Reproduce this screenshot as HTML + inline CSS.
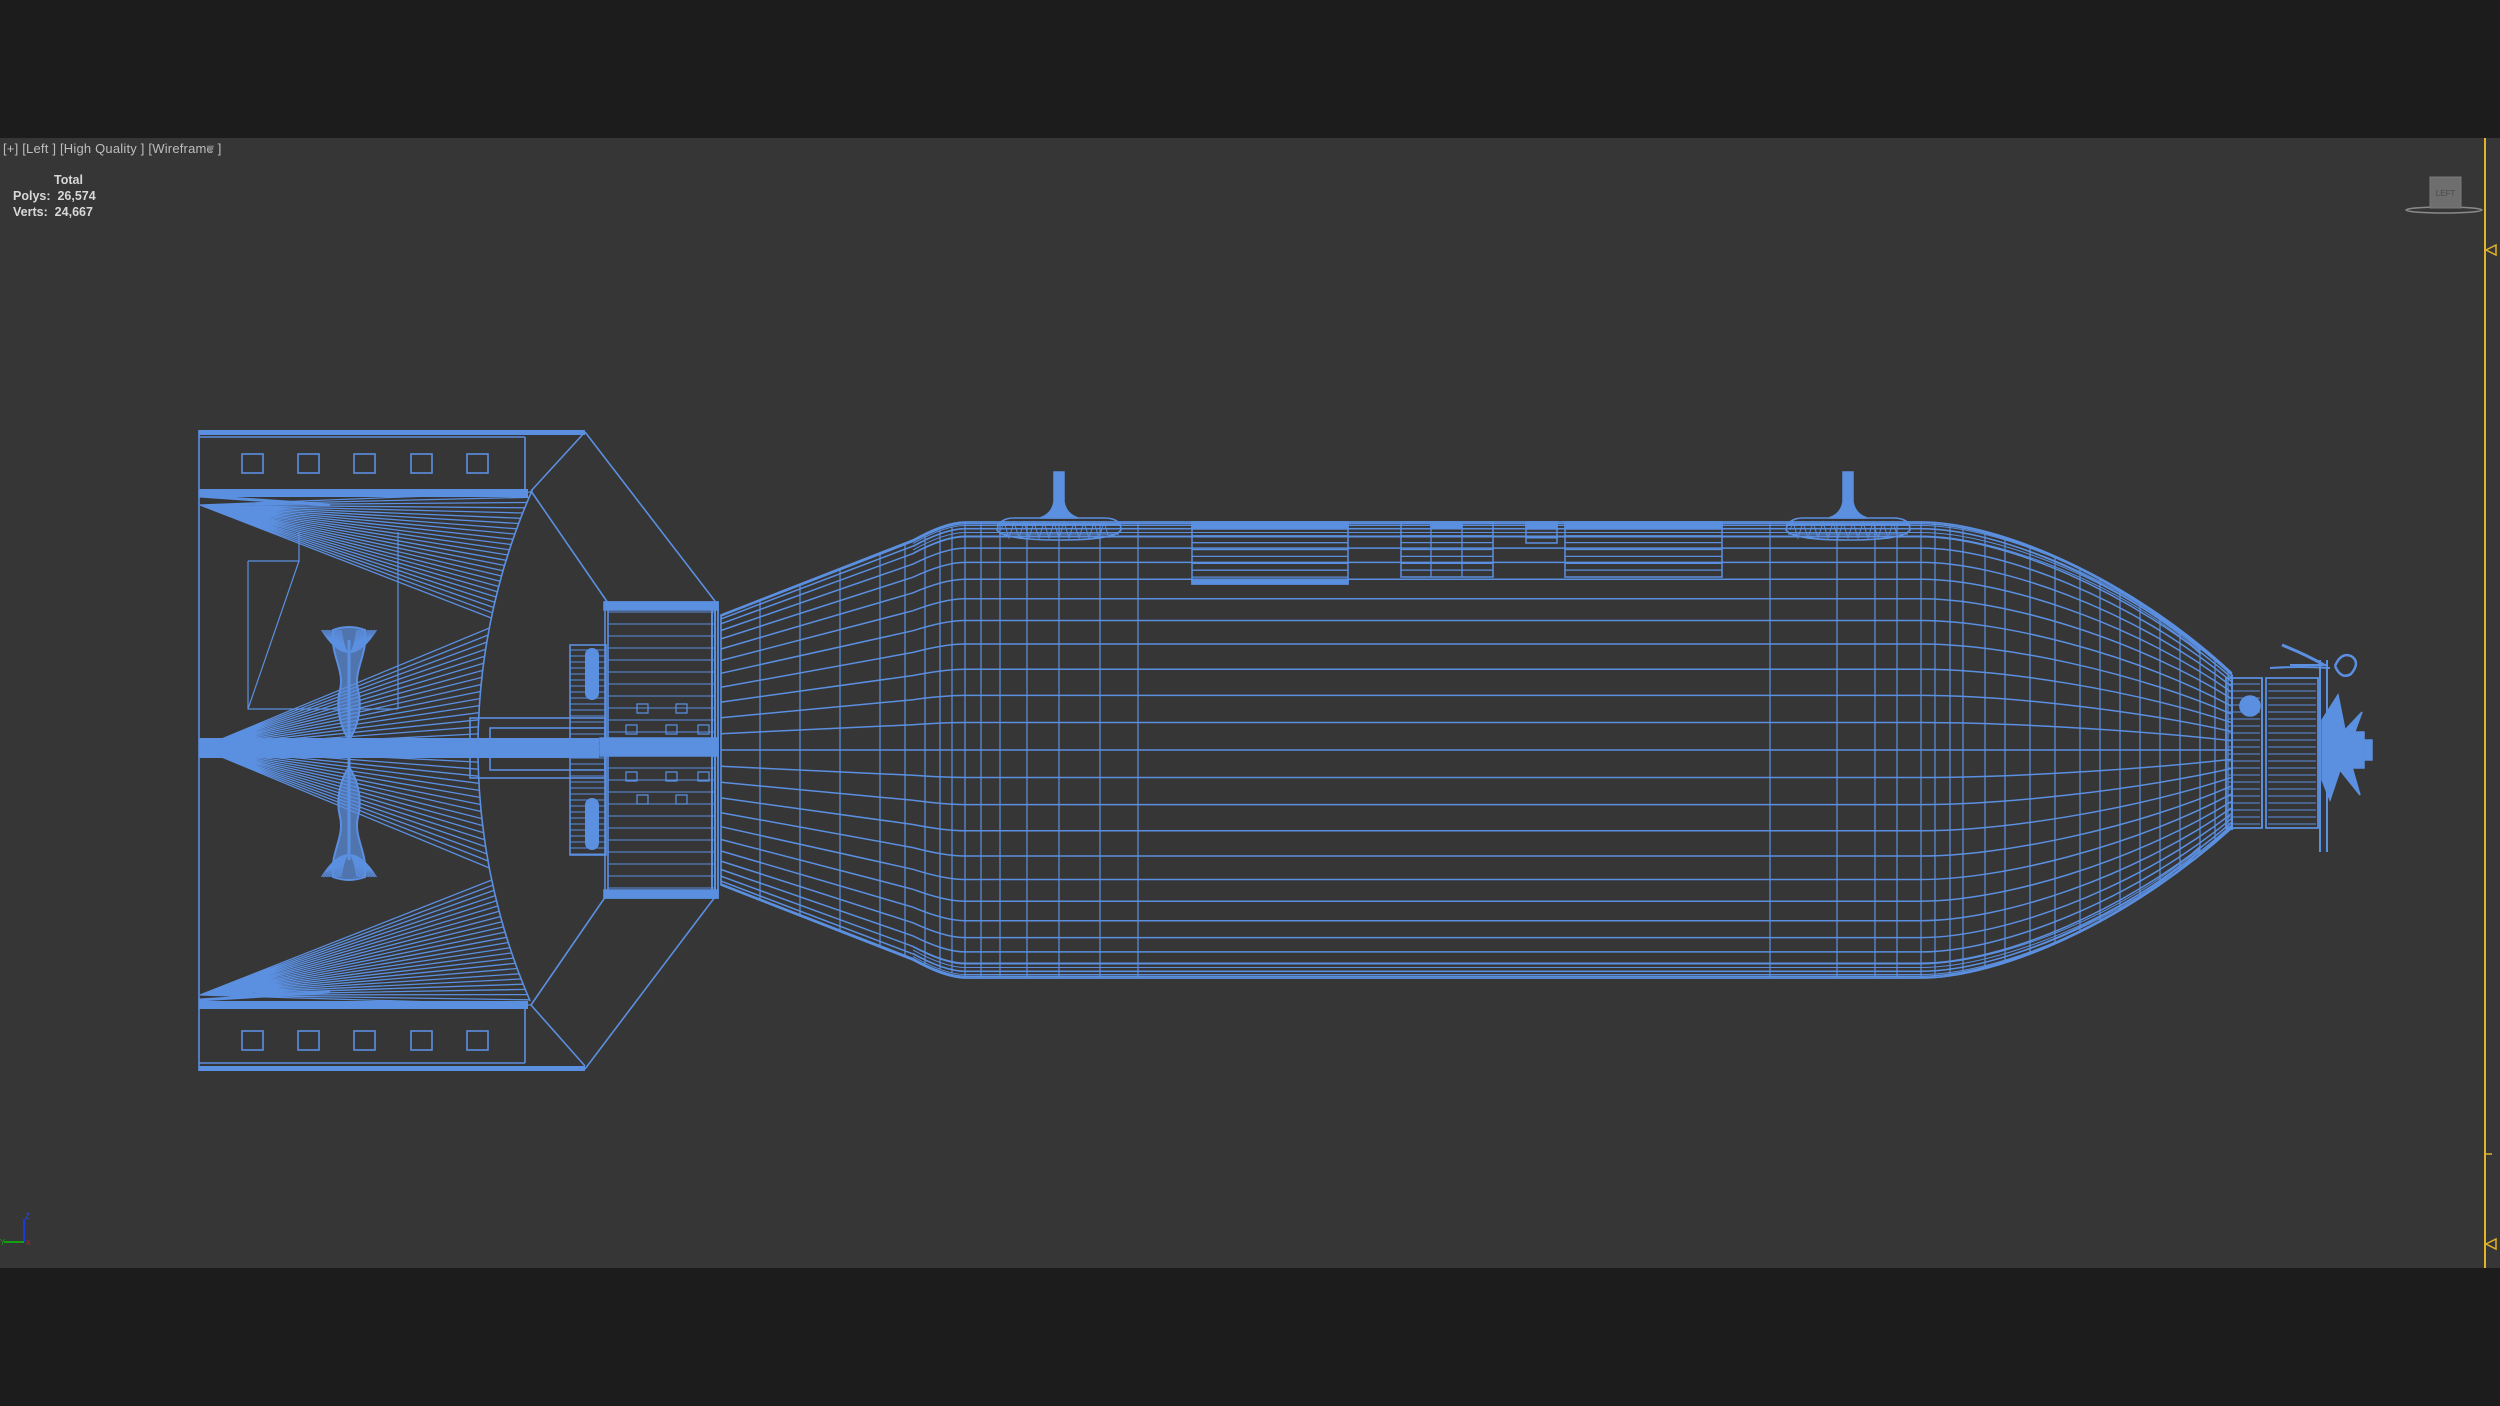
<!DOCTYPE html>
<html><head><meta charset="utf-8">
<style>
html,body{margin:0;padding:0;background:#1c1c1c;width:2500px;height:1406px;overflow:hidden;}
#vp{position:absolute;left:0;top:138px;width:2500px;height:1130px;background:#363636;}
svg{position:absolute;left:0;top:0;}
.t{position:absolute;font-family:"Liberation Sans",sans-serif;color:#c8c8c8;}
</style></head><body>
<div id="vp"></div>
<div class="t" style="left:3px;top:141px;font-size:13px;color:#bdbdbd;letter-spacing:0.2px">[+] [Left ] [High Quality ] [Wireframe ]</div>
<div class="t" style="left:204px;top:141px;font-size:13px;color:#777">&#9660;</div>
<div class="t" style="left:54px;top:173px;font-size:12.5px;font-weight:bold;color:#d8d8d8">Total</div>
<div class="t" style="left:13px;top:189px;font-size:12.5px;font-weight:bold;color:#d8d8d8">Polys:&nbsp; 26,574</div>
<div class="t" style="left:13px;top:205px;font-size:12.5px;font-weight:bold;color:#d8d8d8">Verts:&nbsp; 24,667</div>
<svg id="s" width="2500" height="1406" viewBox="0 0 2500 1406" fill="none" stroke="#5b8fe0" stroke-width="1.6">
<line x1="2485" y1="138" x2="2485" y2="1268" stroke="#e3b32a" stroke-width="2"/>
<path d="M2496 245 L2486 250 L2496 255 Z" stroke="#e3b32a" stroke-width="1.5"/>
<path d="M2496 1239 L2486 1244 L2496 1249 Z" stroke="#e3b32a" stroke-width="1.5"/>
<line x1="2485" y1="1154" x2="2492" y2="1154" stroke="#e3b32a" stroke-width="1.5"/>
<ellipse cx="2444" cy="210" rx="38" ry="3" stroke="#8a8a8a" stroke-width="1.5"/>
<rect x="2430" y="177" width="31" height="31" fill="#6e6e6e" stroke="#7a7a7a" stroke-width="1"/>
<text x="2445.5" y="196" font-family="Liberation Sans,sans-serif" font-size="8" fill="#4a4a4a" stroke="none" text-anchor="middle">LEFT</text>
<line x1="24" y1="1242" x2="24" y2="1219" stroke="#1a3adc" stroke-width="2"/>
<line x1="24" y1="1242" x2="4" y2="1242" stroke="#12a012" stroke-width="2"/>
<text x="25" y="1219" font-family="Liberation Sans,sans-serif" font-size="8" fill="#2a4ae0" stroke="none">Z</text>
<text x="26" y="1245" font-family="Liberation Sans,sans-serif" font-size="7" fill="#c02020" stroke="none">X</text>
<text x="0" y="1245" font-family="Liberation Sans,sans-serif" font-size="8" fill="#18a018" stroke="none">Y</text>
<path d="M721 615 L913 540 Q945 523 965 522 L1921 522 C2000 522 2130 580 2232 675 L2232 828 C2130 920 2000 978 1921 978 L965 978 Q945 977 913 960 L721 885 Z"/>
<rect x="199" y="430" width="386" height="5" fill="#5b8fe0" stroke="none"/>
<rect x="199" y="1066" width="386" height="5" fill="#5b8fe0" stroke="none"/>
<line x1="199" y1="430" x2="199" y2="1071"/>
<path d="M585 432 L718 605 L718 893 L585 1069"/>
<path d="M525 437 L525 491 M525 1005 L525 1063 M531 491 L585 432 M531 1005 L585 1066 M531 491 L608 603 M531 1005 L608 893"/>
<line x1="199" y1="437" x2="525" y2="437"/><line x1="199" y1="1063" x2="525" y2="1063"/>
<g stroke-width="1.6">
<rect x="242" y="454" width="21" height="19"/><rect x="298" y="454" width="21" height="19"/><rect x="354" y="454" width="21" height="19"/><rect x="411" y="454" width="21" height="19"/><rect x="467" y="454" width="21" height="19"/>
<rect x="242" y="1031" width="21" height="19"/><rect x="298" y="1031" width="21" height="19"/><rect x="354" y="1031" width="21" height="19"/><rect x="411" y="1031" width="21" height="19"/><rect x="467" y="1031" width="21" height="19"/>
</g>
<path d="M199 489 L528 489 L528 497 L199 497 Z" fill="#5b8fe0" stroke="none"/>
<path d="M199 1001 L528 1001 L528 1009 L199 1009 Z" fill="#5b8fe0" stroke="none"/>
<path d="M248 561 L248 709 L398 709 M248 561 L299 561 L248 709 M299 561 L299 532 M398 532 L398 709" stroke-width="1.2"/>
<rect x="605" y="602" width="113" height="296"/>
<rect x="608" y="605" width="107" height="290"/>
<rect x="570" y="645" width="36" height="210"/>
<rect x="199" y="738" width="400" height="20" fill="#5b8fe0" stroke="none"/>
<rect x="470" y="718" width="135" height="60"/>
<rect x="490" y="728" width="115" height="42"/>
<g id="dyn"></g>
</svg>
<script>
(function(){
var g=document.getElementById('dyn');var NS='http://www.w3.org/2000/svg';
function P(d,sw,fill){var p=document.createElementNS(NS,'path');p.setAttribute('d',d);if(sw)p.setAttribute('stroke-width',sw);if(fill){p.setAttribute('fill',fill);}g.appendChild(p);}
var C=750,d='';
var N=26;
for(var i=0;i<=N;i++){var th=Math.PI*i/N;var t=-Math.cos(th);
 var y=C+t*228;
 d+='M721 '+(C+t*135).toFixed(1)+' L913 '+(C+t*210).toFixed(1)+' Q945 '+(C+t*228).toFixed(1)+' 965 '+y.toFixed(1)+' L1921 '+y.toFixed(1)+' C2000 '+y.toFixed(1)+' 2130 '+(C+t*172).toFixed(1)+' 2232 '+(C+t*77).toFixed(1)+' ';}
P(d,1.5);
d='';
for(var k=1;k<=4;k++){var off=228-k*3.5;[1,-1].forEach(function(s){var y=C+s*off;d+='M913 '+(C+s*off*0.92).toFixed(1)+' Q945 '+y.toFixed(1)+' 965 '+y.toFixed(1)+' L1921 '+y.toFixed(1)+' C2000 '+y.toFixed(1)+' 2130 '+(C+s*off*0.755).toFixed(1)+' 2200 '+(C+s*off*0.45).toFixed(1)+' ';});}
P(d,1);
function hh(x){if(x<=913)return 135+(x-721)/(913-721)*75;if(x<965)return 210+(x-913)/52*18;if(x<=1921)return 228;
 var best=0,bd=1e9;for(var u=0;u<=1;u+=0.002){var a=1-u;var bx=a*a*a*1921+3*a*a*u*2000+3*a*u*u*2130+u*u*u*2232;var by=a*a*a*228+3*a*a*u*228+3*a*u*u*170+u*u*u*77;if(Math.abs(bx-x)<bd){bd=Math.abs(bx-x);best=by;}}return best;}
var vx=[760,800,840,880,905,925,940,952,965,981,1000,1027,1059,1100,1138,1770,1837,1875,1897,1921,1935,1950,1963,1985,2005,2030,2055,2080,2100,2120,2140,2160,2180,2200,2215,2228];
d='';vx.forEach(function(x){var h=hh(x);d+='M'+x+' '+(C-h).toFixed(1)+' L'+x+' '+(C+h).toFixed(1)+' ';});
P(d,1.2);
function panel(x,y,w,h,n,heavy){P('M'+x+' '+y+' h'+w+' v'+h+' h'+(-w)+' Z',1.5);var dd='';for(var j=1;j<n;j++){var yy=y+h*j/n;dd+='M'+x+' '+yy.toFixed(1)+' h'+w+' ';}P(dd,1.3);if(heavy)P('M'+x+' '+y+' h'+w+' v7 h'+(-w)+' Z',0,'#5b8fe0');}
panel(1192,522,156,62,9,1);P('M1192 580 h156 v4 h-156Z',0,'#5b8fe0');
panel(1401,522,92,55,8,0);P('M1431 522 v55 M1462 522 v55',1.3);P('M1431 522 h31 v6 h-31Z',0,'#5b8fe0');
panel(1526,522,31,21,4,1);
panel(1565,522,157,55,8,1);
[1059,1848].forEach(function(x){P('M'+(x-5)+' 472 h10 v30 q2 12 14 16 h-38 q12 -4 14 -16 Z',1.5,'#5b8fe0');
 var dd='';for(var j=0;j<6;j++)dd+='M'+(x-5)+' '+(476+j*4)+' h10 ';P(dd,1,'none');
 P('M'+(x-62)+' 530 Q'+(x-60)+' 518 '+(x-45)+' 518 L'+(x+45)+' 518 Q'+(x+62)+' 518 '+(x+62)+' 530 Q'+(x+55)+' 540 '+x+' 540 Q'+(x-55)+' 540 '+(x-62)+' 530 Z',1.6);
 var zz='M'+(x-58)+' 530';for(var j=0;j<22;j++){zz+=' L'+(x-55+j*5)+' '+(j%2?538:522);}P(zz,1);P('M'+(x-62)+' 525 h124 M'+(x-60)+' 534 h120',1.3);});
var R=640,cx=1118,cy=748;function ax(y){return cx-Math.sqrt(R*R-(y-cy)*(y-cy));}
function fan(ox,oy,y0,y1,n){var dd='';for(var j=0;j<=n;j++){var y=y0+(y1-y0)*j/n;dd+='M'+ox+' '+oy+' L'+ax(y).toFixed(1)+' '+y.toFixed(1)+' ';}P(dd,1.3);}
fan(200,505,492,618,24);fan(200,748,628,868,34);fan(200,995,880,1005,24);
var ad='M531 491';for(var y=491;y<=1005;y+=6)ad+=' L'+ax(y).toFixed(1)+' '+y;P(ad,1.6);
P('M199 496 L330 505 M199 1000 L330 992 M199 743 L300 743 M199 753 L300 753',3);
function blade(cyb,dir){var dd='';for(var j=0;j<14;j++){var w=8+j*1.5;dd+='M'+(349-w)+' '+(cyb)+' Q349 '+(cyb+dir*45)+' '+(349+w)+' '+cyb+' ';}
 P('M333 '+cyb+' C330 '+(cyb+dir*25)+' 345 '+(cyb+dir*40)+' 340 '+(cyb+dir*60)+' C335 '+(cyb+dir*80)+' 342 '+(cyb+dir*100)+' 349 '+(cyb+dir*110)+' C356 '+(cyb+dir*100)+' 363 '+(cyb+dir*80)+' 358 '+(cyb+dir*60)+' C353 '+(cyb+dir*40)+' 368 '+(cyb+dir*25)+' 365 '+cyb+' Q349 '+(cyb-dir*6)+' 333 '+cyb+' Z',2,'rgba(91,143,224,0.7)');P(dd,1);}
blade(630,1);blade(877,-1);
P('M349 740 L349 756',8);
P('M349 640 L349 860',3);
var hd='';for(var y=612;y<895;y+=12)hd+='M608 '+y+' h107 ';P(hd,1.1);
hd='';for(var y=650;y<855;y+=6)hd+='M570 '+y+' h36 ';P(hd,0.9);
P('M586 655 v38 a6 6 0 0 0 12 0 v-38 a6 6 0 0 0 -12 0Z M586 805 v38 a6 6 0 0 0 12 0 v-38 a6 6 0 0 0 -12 0Z',2,'#5b8fe0');
P('M604 602 h114 v8 h-114Z M604 890 h114 v8 h-114Z',0,'#5b8fe0');
P('M600 738 h118 v18 h-118Z',0,'#5b8fe0');
var bx='';[[637,704],[676,704],[626,725],[666,725],[698,725],[626,772],[666,772],[698,772],[637,795],[676,795]].forEach(function(b){bx+='M'+b[0]+' '+b[1]+' h11 v9 h-11Z ';});P(bx,1.2);
P('M715 608 v284 M712 606 v288',2);
var nx='';
P('M2226 678 h36 v150 h-36Z M2266 678 h52 v150 h-52Z',1.8);
for(var y=684;y<826;y+=7)nx+='M2228 '+y+' h32 M2268 '+y+' h48 ';P(nx,1);
P('M2232 675 v155 M2262 678 v150',2);
P('M2240 706 a10 10 0 1 0 20 0 a10 10 0 1 0 -20 0',0,'#5b8fe0');
P('M2320 660 v192 M2327 660 v192',2);
P('M2290 665 h38 M2270 668 q30 -2 60 0',2);
P('M2282 645 q25 10 42 20',3);
P('M2335 666 q6 -14 16 -10 q10 6 0 18 q-10 6 -16 -8',2.5);
P('M2322 720 L2338 695 L2345 730 L2362 712 L2350 745 L2370 750 L2350 760 L2360 795 L2340 770 L2330 800 L2322 780 Z',1.5,'#5b8fe0');
P('M2350 732 h14 v36 h-14Z M2364 740 h8 v20 h-8Z',1.5,'#5b8fe0');
})();
</script>
</body></html>
